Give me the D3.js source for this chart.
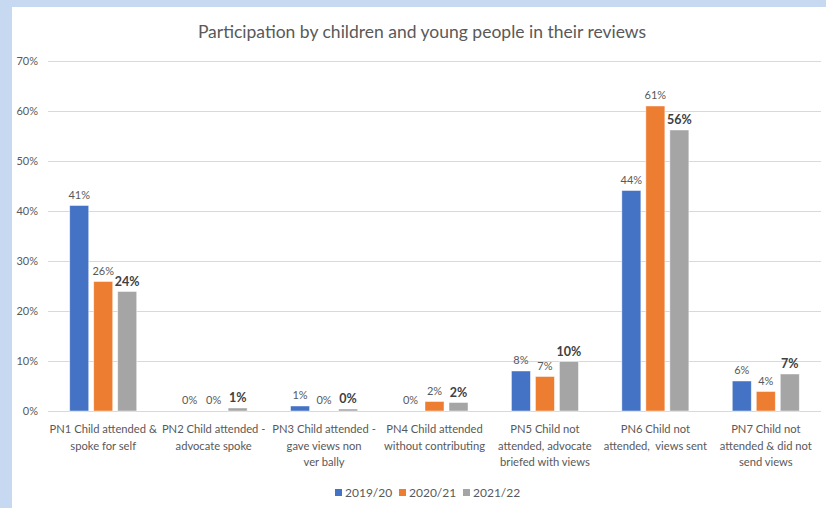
<!DOCTYPE html>
<html>
<head>
<meta charset="utf-8">
<script src="https://cdn.jsdelivr.net/npm/d3@7"></script>
<style>
  html, body { margin: 0; padding: 0; background: #c6d9f1; }
  svg { display: block; }
  text { font-family: "Lato", "Open Sans", sans-serif; white-space: pre; }
</style>
</head>
<body>
<svg id="chart" width="826" height="508"></svg>
<script>
const categories = [
  ["PN1 Child attended &", "spoke for self"],
  ["PN2 Child attended -", "advocate spoke"],
  ["PN3 Child attended -", "gave views non", "ver bally"],
  ["PN4 Child attended", "without contributing"],
  ["PN5 Child not", "attended, advocate", "briefed with views"],
  ["PN6 Child not", "attended,  views sent"],
  ["PN7 Child not", "attended & did not", "send views"]
];
const seriesNames = ["2019/20", "2020/21", "2021/22"];
const values2019 = [41.1, 0, 1.0, 0, 8.0, 44.1, 6.0];
const values2020 = [25.9, 0, 0, 1.9, 6.9, 61.0, 3.9];
const values2021 = [23.9, 0.6, 0.4, 1.7, 9.9, 56.2, 7.4];
const yTicks = [0, 10, 20, 30, 40, 50, 60, 70];
const colors = ["#4472c4", "#ed7d31", "#a5a5a5"];

const series = [values2019, values2020, values2021];

const svg = d3.select("#chart");
// white panel
svg.append("rect").attr("x", 12).attr("y", 7).attr("width", 814).attr("height", 501).attr("fill", "#ffffff");

const x0 = d3.scaleBand().domain(d3.range(categories.length)).range([48, 821]).paddingInner(0).paddingOuter(0);
const x1 = d3.scaleBand().domain(d3.range(3)).range([0, 67]).paddingInner(5/24);
const y = d3.scaleLinear().domain([0, 70]).range([411, 61]);

// title
svg.append("text").attr("x", 422).attr("y", 38).attr("text-anchor", "middle")
  .attr("font-size", 17.5).attr("fill", "#595959")
  .text("Participation by children and young people in their reviews");

// gridlines
svg.append("g").selectAll("line").data(yTicks).join("line")
  .attr("x1", 48).attr("x2", 821)
  .attr("y1", d => Math.round(y(d)) + 0.5).attr("y2", d => Math.round(y(d)) + 0.5)
  .attr("stroke", "#d9d9d9").attr("stroke-width", 1);

// y axis labels
const yAxis = d3.axisLeft(y).tickValues(yTicks).tickFormat(d => d + "%").tickSize(0).tickPadding(0);
const yg = svg.append("g").attr("transform", "translate(38,0)").call(yAxis);
yg.select(".domain").remove();
yg.selectAll("text").attr("font-size", 11).attr("fill", "#595959").style("font-family", "Lato, sans-serif");

// bars
const groups = svg.append("g").selectAll("g").data(categories).join("g")
  .attr("transform", (d, i) => `translate(${x0(i) + (x0.bandwidth() - 67) / 2},0)`);

groups.each(function(cat, i) {
  const g = d3.select(this);
  series.forEach((vals, s) => {
    const v = vals[i];
    g.append("rect")
      .attr("x", x1(s)).attr("width", x1.bandwidth())
      .attr("y", y(v)).attr("height", y(0) - y(v))
      .attr("fill", colors[s])
      .attr("stroke", "#ffffff").attr("stroke-opacity", 0.6).attr("stroke-width", 0.75);
    const bold = s === 2;
    g.append("text")
      .attr("x", x1(s) + x1.bandwidth() / 2)
      .attr("y", y(v) - (bold ? 6 : 7))
      .attr("text-anchor", "middle")
      .attr("font-size", bold ? 12.5 : 11)
      .attr("font-weight", bold ? "bold" : "normal")
      .attr("fill", bold ? "#404040" : "#595959")
      .text(Math.round(v) + "%");
  });
});

// x labels
const xl = svg.append("g").selectAll("text").data(categories).join("text")
  .attr("x", (d, i) => x0(i) + x0.bandwidth() / 2)
  .attr("y", 433)
  .attr("text-anchor", "middle")
  .attr("font-size", 11.2)
  .attr("fill", "#595959");
xl.selectAll("tspan").data(d => d).join("tspan")
  .attr("x", function() { return d3.select(this.parentNode).attr("x"); })
  .attr("dy", (d, j) => j === 0 ? 0 : 16.5)
  .text(d => d);

// legend
const legendX = [335, 399, 463];
const lg = svg.append("g").selectAll("g").data(seriesNames).join("g")
  .attr("transform", (d, i) => `translate(${legendX[i]},493)`);
lg.append("rect").attr("x", 0).attr("y", -4).attr("width", 7).attr("height", 7).attr("fill", (d, i) => colors[i]);
lg.append("text").attr("x", 10).attr("y", 4).attr("font-size", 12).attr("fill", "#595959").text(d => d);
</script>
</body>
</html>
